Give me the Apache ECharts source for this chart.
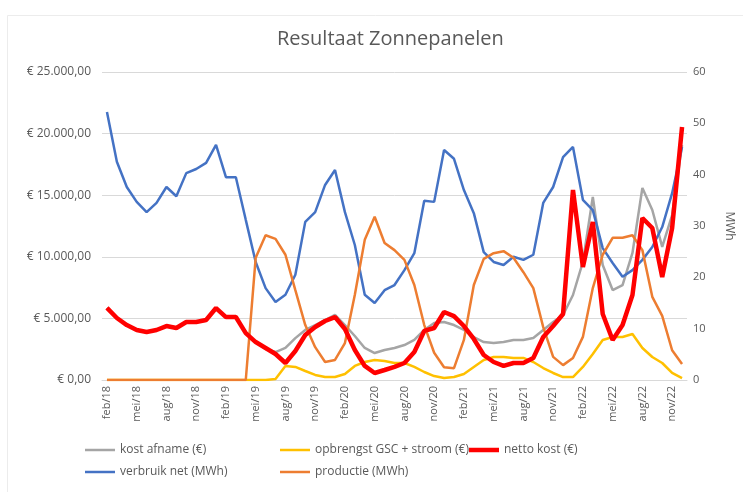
<!DOCTYPE html>
<html>
<head>
<meta charset="utf-8">
<script src="https://cdn.jsdelivr.net/npm/echarts@6/dist/echarts.min.js"></script>
<style>
  html, body { margin: 0; padding: 0; background: #ffffff; }
  #chart { width: 743px; height: 492px; }
</style>
</head>
<body>
<div id="chart"></div>
<script>
const categories = ['feb/18','mrt/18','apr/18','mei/18','jun/18','jul/18','aug/18','sep/18','okt/18','nov/18','dec/18',
  'jan/19','feb/19','mrt/19','apr/19','mei/19','jun/19','jul/19','aug/19','sep/19','okt/19','nov/19','dec/19',
  'jan/20','feb/20','mrt/20','apr/20','mei/20','jun/20','jul/20','aug/20','sep/20','okt/20','nov/20','dec/20',
  'jan/21','feb/21','mrt/21','apr/21','mei/21','jun/21','jul/21','aug/21','sep/21','okt/21','nov/21','dec/21',
  'jan/22','feb/22','mrt/22','apr/22','mei/22','jun/22','jul/22','aug/22','sep/22','okt/22','nov/22','dec/22'];

const kostAfname = [5850,5030,4460,4060,3900,4060,4380,4220,4710,4710,4870,5840,5110,5110,3810,
  3080,2520,2270,2600,3400,4060,4460,4870,5280,4460,3570,2600,2190,2440,2600,2840,3250,4060,4630,4710,
  4460,4060,3490,3080,3000,3080,3250,3250,3410,4060,4710,5280,6900,9580,14850,9330,7300,7710,10310,
  15580,13800,10800,13390,19070];

const opbrengst = [0,0,0,0,0,0,0,0,0,0,0,0,0,0,0,0,0,
  80,1140,1060,730,410,240,240,490,1140,1460,1620,1540,1380,1380,1060,650,320,160,240,490,1060,1620,
  1870,1870,1790,1790,1460,970,570,240,240,1060,2110,3250,3490,3490,3730,2600,1870,1380,570,160];

const nettoKost = [5850,5030,4460,4060,3900,4060,4380,4220,4710,4710,4870,5840,5110,5110,3810,3080,2600,
  2110,1380,2350,3650,4300,4790,5110,4140,2430,1140,570,810,1060,1380,2270,3980,4220,5520,5190,4380,
  3330,2030,1460,1140,1380,1380,1790,3490,4380,5360,15420,9170,12820,5360,3250,4460,6900,13150,12340,
  8360,12340,20540];

const verbruikNet = [52.2,42.5,37.6,34.7,32.7,34.5,37.6,35.8,40.3,41.1,42.3,45.8,39.5,39.5,31.2,23.0,17.9,
  15.2,16.6,20.5,30.8,32.7,38.0,40.9,32.7,26.3,16.6,15.0,17.5,18.5,21.4,24.7,34.9,34.7,44.8,43.1,37.0,
  32.5,24.9,23.0,22.4,24.0,23.4,24.4,34.5,37.6,43.4,45.4,35.1,33.1,25.7,22.8,20.1,21.4,23.4,25.9,29.8,
  36.4,45.4];

const productie = [0,0,0,0,0,0,0,0,0,0,0,0,0,0,0,
  23.8,28.2,27.5,24.4,17.5,10.7,6.4,3.5,3.9,7.2,16.6,27.3,31.8,26.7,25.3,23.4,18.5,10.7,5.3,2.5,2.3,7.8,
  18.5,23.6,24.7,25.1,23.8,21.0,17.9,10.3,4.5,2.9,4.3,8.4,17.9,24.4,27.7,27.7,28.2,25.3,16.2,12.5,5.8,3.1];

const seriesNames = ['kost afname (€)', 'opbrengst GSC + stroom (€)', 'netto kost (€)', 'verbruik net (MWh)', 'productie (MWh)'];
const leftTicks = { min: 0, max: 25000, interval: 5000 };
const rightTicks = { min: 0, max: 60, interval: 10 };

function euro(v) {
  const s = Math.round(v).toString().replace(/\B(?=(\d{3})+(?!\d))/g, '.');
  return '€ ' + s + ',00';
}

const FONT = 'Open Sans';
const TXT = '#595959';

const chart = echarts.init(document.getElementById('chart'), null, { renderer: 'canvas' });

function legendItem(name, left, top, h) {
  return {
    show: true, left: left, top: top, orient: 'horizontal', padding: 0,
    data: [name], icon: 'rect', itemWidth: 30, itemHeight: h, itemGap: 0,
    textStyle: { color: TXT, fontFamily: FONT, fontSize: 12 },
    selectedMode: false
  };
}

chart.setOption({
  animation: false,
  backgroundColor: '#ffffff',
  title: {
    text: 'Resultaat Zonnepanelen', left: 272, top: 24,
    textStyle: { color: TXT, fontFamily: FONT, fontSize: 20, fontWeight: 'normal' }
  },
  graphic: [{
    type: 'rect', shape: { x: 7.5, y: 15.5, width: 800, height: 600 },
    style: { fill: 'none', stroke: '#ececec', lineWidth: 1 }, silent: true
  }],
  legend: [
    legendItem(seriesNames[0], 85, 444, 2.5),
    legendItem(seriesNames[1], 280, 444, 2.5),
    legendItem(seriesNames[2], 469, 444, 4.5),
    legendItem(seriesNames[3], 85, 466, 2.5),
    legendItem(seriesNames[4], 280, 466, 2.5)
  ],
  grid: { left: 102, right: 47, top: 72, bottom: 112, containLabel: false },
  xAxis: {
    type: 'category', data: categories, boundaryGap: true,
    axisLine: { lineStyle: { color: '#d9d9d9' } },
    axisTick: { show: false },
    axisLabel: { interval: 2, rotate: 90, margin: 6, color: TXT, fontFamily: FONT, fontSize: 11 }
  },
  yAxis: [{
    type: 'value', min: leftTicks.min, max: leftTicks.max, interval: leftTicks.interval,
    axisLine: { show: false }, axisTick: { show: false },
    splitLine: { lineStyle: { color: '#d9d9d9', width: 1 } },
    axisLabel: { formatter: euro, margin: 11, color: TXT, fontFamily: FONT, fontSize: 12 }
  }, {
    type: 'value', min: rightTicks.min, max: rightTicks.max, interval: rightTicks.interval,
    position: 'right',
    name: 'MWh', nameLocation: 'middle', nameGap: 36, nameRotate: -90,
    nameTextStyle: { color: TXT, fontFamily: FONT, fontSize: 12 },
    axisLine: { show: false }, axisTick: { show: false }, splitLine: { show: false },
    axisLabel: { margin: 6, color: TXT, fontFamily: FONT, fontSize: 11 }
  }],
  series: [
    { name: seriesNames[0], type: 'line', yAxisIndex: 0, data: kostAfname, symbol: 'none',
      lineStyle: { color: '#A5A5A5', width: 2.5 }, itemStyle: { color: '#A5A5A5' }, z: 2 },
    { name: seriesNames[1], type: 'line', yAxisIndex: 0, data: opbrengst, symbol: 'none',
      lineStyle: { color: '#FFC000', width: 2.5 }, itemStyle: { color: '#FFC000' }, z: 2 },
    { name: seriesNames[3], type: 'line', yAxisIndex: 1, data: verbruikNet, symbol: 'none',
      lineStyle: { color: '#4472C4', width: 2.5 }, itemStyle: { color: '#4472C4' }, z: 3 },
    { name: seriesNames[4], type: 'line', yAxisIndex: 1, data: productie, symbol: 'none',
      lineStyle: { color: '#ED7D31', width: 2.5 }, itemStyle: { color: '#ED7D31' }, z: 3 },
    { name: seriesNames[2], type: 'line', yAxisIndex: 0, data: nettoKost, symbol: 'none',
      lineStyle: { color: '#FF0000', width: 4.5 }, itemStyle: { color: '#FF0000' }, z: 4 }
  ]
});
</script>
</body>
</html>
